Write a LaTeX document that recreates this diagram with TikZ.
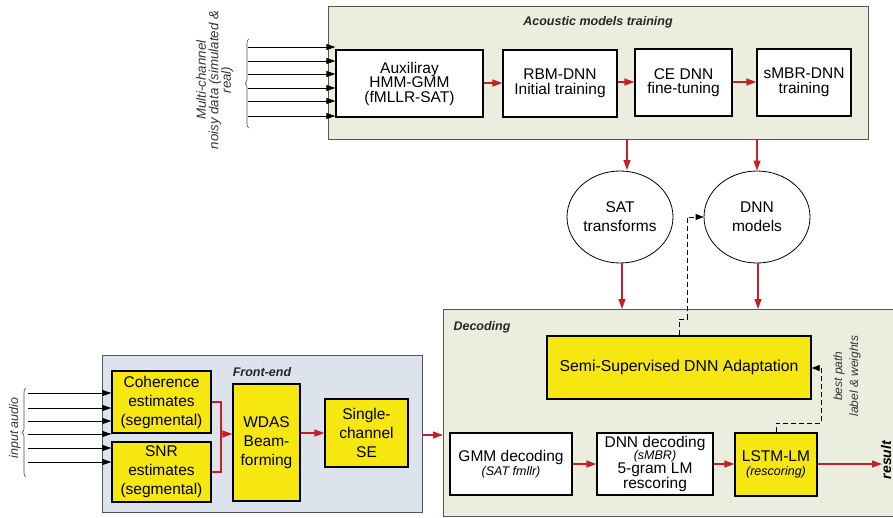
\documentclass[tikz,border=0pt]{standalone}
\usepackage{fontspec}
\setmainfont{Liberation Sans}
\usetikzlibrary{arrows.meta,shapes.geometric,decorations.pathreplacing}
\definecolor{bggreen}{HTML}{EBEEDF}
\definecolor{bgblue}{HTML}{DCE3ED}
\definecolor{ylw}{HTML}{F5E70F}
\definecolor{rd}{HTML}{C42026}
\definecolor{frame}{HTML}{555555}
\tikzset{
  panel/.style={draw=frame, line width=1pt},
  box/.style={draw=black, line width=1.3pt, fill=white, align=center, inner sep=1pt,
    font=\fontsize{15.5}{14.5}\selectfont},
  ybox/.style={box, fill=ylw},
  febox/.style={ybox, font=\fontsize{15.5}{19}\selectfont},
  oval/.style={draw=black, line width=0.8pt, ellipse, fill=white, align=center,
    font=\fontsize{15.5}{19}\selectfont, inner sep=0pt},
  rarrow/.style={draw=rd, line width=1.3pt, -{Triangle[length=10pt,width=7pt]}},
  rline/.style={draw=rd, line width=1.3pt},
  barrow/.style={draw=black, line width=0.8pt, -{Triangle[length=9pt,width=6pt]}},
  dashline/.style={draw=black, line width=0.8pt, dash pattern=on 5pt off 3pt},
  dasharrow/.style={dashline, -{Triangle[length=8pt,width=6pt]}},
  ptitle/.style={font=\fontsize{12.5}{13}\selectfont\bfseries\itshape, text=black!85},
  sidelbl/.style={font=\fontsize{13.3}{12.5}\selectfont\itshape, text=black!80, align=center, rotate=90},
  brc/.style={draw=black!70, line width=0.6pt, decorate, decoration={brace, amplitude=4pt}},
}
\newcommand{\sm}[1]{{\fontsize{12.5}{13}\selectfont\itshape #1}}
\begin{document}
\begin{tikzpicture}[x=1pt,y=-1pt]
\useasboundingbox (0,0) rectangle (893,517);
% panels
\path[panel, fill=bggreen] (328,6) rectangle (868,139);
\node[ptitle] (actitle) at (598,22) {Acoustic models training};
\path[panel, fill=bggreen] (443,309) rectangle (905,516);
\coordinate (decN) at (600,309);
\coordinate (decW) at (443,435);
\node[ptitle, anchor=west] (dectitle) at (450,327) {Decoding};
\path[panel, fill=bgblue] (102,355) rectangle (422,512);
\coordinate (feE) at (422,435);
\node[ptitle] (fetitle) at (262,372) {Front-end};

% acoustic boxes
\node[box, minimum width=147, minimum height=67] (aux) at (409.5,83.5) {Auxiliray\\HMM-GMM\\(fMLLR-SAT)};
\node[box, minimum width=114, minimum height=67] (rbm) at (560,83.5) {RBM-DNN\\Initial training};
\node[box, minimum width=97, minimum height=67] (ce) at (683.5,82.5) {CE DNN\\fine-tuning};
\node[box, minimum width=94, minimum height=67] (smbr) at (804,82.5) {sMBR-DNN\\training};
\draw[rarrow] (aux.east |- 0,83) -- (rbm.west |- 0,83);
\draw[rarrow] (rbm.east |- 0,82) -- (ce.west |- 0,82);
\draw[rarrow] (ce.east |- 0,82) -- (smbr.west |- 0,82);

% ellipses
\node[oval, minimum width=106, minimum height=92] (sat) at (620,217) {SAT\\transforms};
\node[oval, minimum width=106, minimum height=92] (dnn) at (757,217) {DNN\\models};
\coordinate (a1) at (627,139);
\coordinate (a2) at (757,139);
\draw[rarrow] (a1) -- (627,170);
\draw[rarrow] (a2) -- (dnn.north);
\draw[rarrow] ([xshift=2pt]sat.south) -- ([xshift=2pt]sat.south |- decN);
\draw[rarrow] ([xshift=1pt]dnn.south) -- ([xshift=1pt]dnn.south |- decN);

% multi-channel inputs
\foreach \y/\n in {47/1,61/2,74/3,88/4,101/5,116/6}{
  \coordinate (mi\n) at (248,\y);
  \draw[barrow] (mi\n) -- (aux.west |- 0,\y);
}
\draw[brc] (249,128) -- (249,39);
\node[sidelbl] (mclbl) at (215,80) {Multi-channel\\noisy data (simulated \&\\real)};

% decoding
\node[ybox, minimum width=264, minimum height=63, font=\fontsize{15.8}{16}\selectfont] (semi) at (679,367.5) {Semi-Supervised DNN Adaptation};
\node[box, minimum width=122, minimum height=62] (gmm) at (511,464) {GMM decoding\\[0pt]\sm{(SAT fmllr)}};
\node[box, minimum width=116, minimum height=62, font=\fontsize{15.5}{13}\selectfont] (dnnd) at (655,464) {DNN decoding\\[-1pt]\sm{(sMBR)}\\[0pt]5-gram LM\\rescoring};
\node[ybox, minimum width=82, minimum height=63] (lstm) at (776,464.5) {LSTM-LM\\[0pt]\sm{(rescoring)}};
\coordinate (res) at (882,464);
\draw[rarrow] (gmm.east |- 0,464) -- (dnnd.west |- 0,464);
\draw[rarrow] (dnnd.east |- 0,464) -- (lstm.west |- 0,464);
\draw[rarrow] (lstm.east |- res) -- (res);
\node[rotate=90, font=\fontsize{14}{14}\selectfont\bfseries\itshape] (reslbl) at (886,460) {result};

\draw[dasharrow] (lstm.north) -- (776,423) -- (821,423) -- (821,368) -- (semi.east |- 0,368);
\node[sidelbl, font=\fontsize{12}{16}\selectfont\itshape] (bplbl) at (847,376) {best path\\label \& weights};
\draw[dasharrow] (semi.north) -- (679,319) -- (687,319) -- (687,217) -- (dnn.west);

% front-end
\node[febox, minimum width=99, minimum height=62] (coh) at (161.5,402) {Coherence\\estimates\\(segmental)};
\node[febox, minimum width=99, minimum height=60] (snr) at (161.5,472) {SNR\\estimates\\(segmental)};
\node[febox, minimum width=67, minimum height=117] (wdas) at (266.5,442.5) {WDAS\\Beam-\\forming};
\node[febox, minimum width=83, minimum height=68] (se) at (366.5,433) {Single-\\channel\\SE};
\coordinate (jn) at (221,434);
\draw[rline] (coh.east) -- (coh.east -| jn) -- (snr.east -| jn) -- (snr.east);
\draw[rarrow] (jn) -- (wdas.west |- jn);
\draw[rarrow] (wdas.east |- se) -- (se.west);
\draw[rarrow] (feE) -- (decW);

\foreach \y/\n in {393/1,408/2,421/3,434/4,448/5,462/6}{
  \coordinate (ii\n) at (28,\y);
  \draw[barrow] (ii\n) -- (coh.west |- 0,\y);
}
\draw[brc] (26,477) -- (26,388);
\node[sidelbl, font=\fontsize{12.5}{12}\selectfont\itshape] (inlbl) at (15,428) {input audio};
\end{tikzpicture}
\end{document}
